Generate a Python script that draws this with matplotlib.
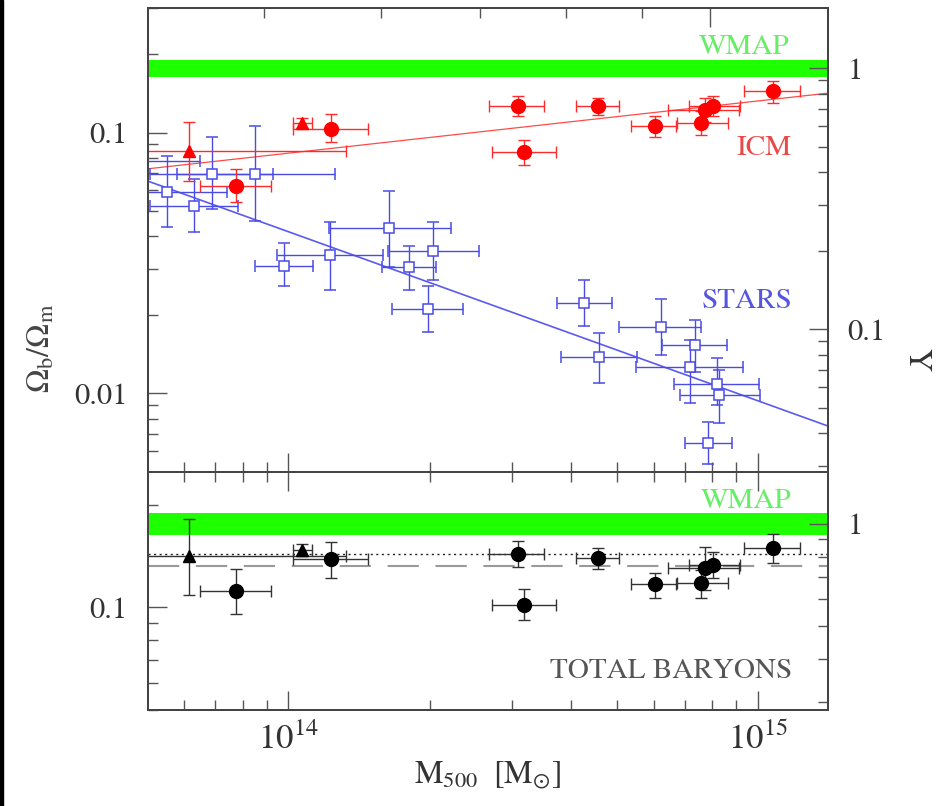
import numpy as np
import matplotlib
matplotlib.use('Agg')
import matplotlib.pyplot as plt
from matplotlib.ticker import FixedLocator, NullFormatter, FuncFormatter, LogLocator
from matplotlib.patches import Rectangle

plt.rcParams['font.family'] = ['STIXGeneral', 'DejaVu Serif']
plt.rcParams['mathtext.fontset'] = 'stix'

# ---------------- data (masses in units of 1e14 Msun) ----------------
icm_M   = [0.775, 1.235, 3.08, 3.17, 4.56, 6.03, 7.56, 7.71, 8.02, 10.77]
icm_Mlo = [0.649, 1.025, 2.68, 2.71, 4.09, 5.36, 6.72, 6.43, 7.13, 9.34]
icm_Mhi = [0.920, 1.481, 3.50, 3.71, 5.05, 6.69, 8.63, 9.11, 9.16, 12.29]
icm_f   = [0.0624, 0.1027, 0.1260, 0.0845, 0.1260, 0.1055, 0.1083, 0.1216, 0.1260, 0.1440]
icm_fhi = [0.0726, 0.1173, 0.1377, 0.0940, 0.1353, 0.1153, 0.1205, 0.1353, 0.1377, 0.1574]
icm_flo = [0.0542, 0.0923, 0.1153, 0.0752, 0.1163, 0.0965, 0.0974, 0.1093, 0.1153, 0.1294]

tri_M   = [0.615, 1.071]
tri_Mlo = [0.40, 1.025]
tri_Mhi = [1.329, 1.125]
tri_icm_f   = [0.0852, 0.1083]
tri_icm_fhi = [0.1093, 0.1133]
tri_icm_flo = [0.0653, 0.1036]

st_M   = [0.46, 0.552, 0.630, 0.689, 0.850, 0.981, 1.229, 1.642, 1.811, 1.988,
          2.038, 4.256, 4.581, 6.21, 7.34, 7.16, 8.18, 8.26, 7.83]
st_Mlo = [0.33, 0.411, 0.508, 0.508, 0.580, 0.850, 0.947, 1.223, 1.586, 1.666,
          1.634, 3.728, 3.80, 5.054, 6.242, 5.495, 6.622, 6.82, 6.99]
st_Mhi = [0.649, 0.741, 0.782, 0.929, 1.259, 1.131, 1.594, 2.226, 2.068, 2.361,
          2.542, 4.883, 5.52, 7.558, 8.588, 9.29, 10.05, 10.10, 8.80]
st_f   = [0.078, 0.0592, 0.0523, 0.0695, 0.0695, 0.0309, 0.0338, 0.0430, 0.0304, 0.0211,
          0.0353, 0.0223, 0.0138, 0.0180, 0.0153, 0.0126, 0.01083, 0.0099, 0.00647]
st_fhi = [0.095, 0.0815, 0.0665, 0.0957, 0.1055, 0.0376, 0.0453, 0.0597, 0.0366, 0.0259,
          0.0453, 0.0273, 0.0170, 0.0231, 0.0191, 0.0160, 0.01365, 0.0123, 0.00779]
st_flo = [0.064, 0.0434, 0.0415, 0.0509, 0.0457, 0.0257, 0.0250, 0.0306, 0.0250, 0.0172,
          0.0273, 0.0181, 0.0110, 0.0140, 0.01205, 0.00923, 0.0090, 0.0077, 0.00537]

tot_f   = [0.1115, 0.1384, 0.1432, 0.1020, 0.1393, 0.1169, 0.1177, 0.1302, 0.1329, 0.1491]
tot_fhi = [0.1294, 0.1553, 0.1563, 0.1137, 0.1491, 0.1267, 0.1285, 0.1501, 0.1451, 0.1640]
tot_flo = [0.0954, 0.1217, 0.1311, 0.0916, 0.1294, 0.1063, 0.1063, 0.1129, 0.1217, 0.1347]
tri_tot_f   = [0.1413, 0.1471]
tri_tot_fhi = [0.1815, 0.1532]
tri_tot_flo = [0.1085, 0.1413]

fit_M     = [0.503, 14.1]
icm_fit   = [0.0726, 0.1415]
stars_fit = [0.0651, 0.0075]

wmap_band = [0.163, 0.189]
tot_dotted = 0.144
tot_dashed = 0.132
Y_norm = 0.176              # Y = f / Y_norm (right-hand axis)

x_lim = [0.503, 14.1]
top_ylim = [0.005, 0.3]
bot_ylim = [0.05, 0.25]

# secondary top scale (R-like, log), major at 1, minors 0.5..0.9
r_ticks_major = [1.0]
r_ticks_minor = [0.5, 0.6, 0.7, 0.8, 0.9]
r_M1 = 7.9e14
r_slope = 0.317

E = 1e14


def arr(a):
    return np.asarray(a, dtype=float)


def errs(v, lo, hi):
    v, lo, hi = arr(v), arr(lo), arr(hi)
    return np.vstack([v - lo, hi - v])


# ---------------- figure ----------------
W, H = 942, 806
fig = plt.figure(figsize=(W / 100, H / 100), dpi=100)
fig.patches.append(Rectangle((0, 0), 3 / W, 1, transform=fig.transFigure,
                             color='black', zorder=0))

L, R = 148, 828
ax1 = fig.add_axes([L / W, 1 - 472 / H, (R - L) / W, (472 - 8) / H])
ax2 = fig.add_axes([L / W, 1 - 710 / H, (R - L) / W, (710 - 472) / H])

RED = '#ff0000'
RED_E = '#ff2a2a'
BLUE = '#4a4ae6'
GREEN = '#1eff00'
GRAY = '#555555'
FS = 21
TFS = 22

fmt = FuncFormatter(lambda v, p: f'{v:g}')

for ax in (ax1, ax2):
    ax.set_xscale('log')
    ax.set_yscale('log')
    ax.set_xlim(x_lim[0] * E, x_lim[1] * E)
    for s in ax.spines.values():
        s.set_color('#444444')
        s.set_linewidth(1.4)

ax1.set_ylim(*top_ylim)
ax2.set_ylim(*bot_ylim)

tick_kw = dict(direction='in', color=GRAY, labelsize=TFS, labelcolor='#333333')

# ---- top panel ----
ax1.axhspan(wmap_band[0], wmap_band[1], color=GREEN, lw=0, zorder=1)
ax1.plot(arr(fit_M) * E, icm_fit, color='#ff4a4a', lw=0.9, zorder=2)
ax1.plot(arr(fit_M) * E, stars_fit, color='#5a5af0', lw=1.2, zorder=2)

ax1.errorbar(arr(st_M) * E, st_f, xerr=errs(st_M, st_Mlo, st_Mhi) * E,
             yerr=errs(st_f, st_flo, st_fhi), fmt='s', ms=7.5, mfc='white',
             mec=BLUE, mew=1.1, ecolor=BLUE, elinewidth=1.0, capsize=4,
             capthick=1.0, zorder=3)
ax1.errorbar(arr(icm_M) * E, icm_f, xerr=errs(icm_M, icm_Mlo, icm_Mhi) * E,
             yerr=errs(icm_f, icm_flo, icm_fhi), fmt='o', ms=10, color=RED,
             ecolor=RED_E, elinewidth=1.0, capsize=4, capthick=1.0, zorder=4)
ax1.errorbar(arr(tri_M) * E, tri_icm_f, xerr=errs(tri_M, tri_Mlo, tri_Mhi) * E,
             yerr=errs(tri_icm_f, tri_icm_flo, tri_icm_fhi), fmt='^', ms=9,
             color=RED, ecolor=RED_E, elinewidth=1.0, capsize=4, capthick=1.0,
             zorder=4)

ax1.text(0.944, 0.916, 'WMAP', transform=ax1.transAxes, ha='right', va='center',
         fontsize=FS, color='#66ee66')
ax1.text(0.947, 0.698, 'ICM', transform=ax1.transAxes, ha='right', va='center',
         fontsize=FS, color='#e84a4a')
ax1.text(0.947, 0.3685, 'STARS', transform=ax1.transAxes, ha='right', va='center',
         fontsize=FS, color='#5555e0')

ax1.yaxis.set_major_locator(FixedLocator([0.01, 0.1]))
ax1.yaxis.set_major_formatter(fmt)
ax1.yaxis.set_minor_locator(LogLocator(base=10, subs=np.arange(2, 10)))
ax1.yaxis.set_minor_formatter(NullFormatter())
ax1.tick_params(axis='both', which='both', top=False, right=False, **tick_kw)
ax1.tick_params(axis='both', which='major', length=14, width=1.0, pad=15)
ax1.tick_params(axis='both', which='minor', length=7, width=1.0)
ax1.tick_params(axis='x', labelbottom=False)

ax1r = ax1.twinx()
ax1r.set_yscale('log')
ax1r.set_ylim(top_ylim[0] / Y_norm, top_ylim[1] / Y_norm)
ax1r.yaxis.set_major_locator(FixedLocator([0.1, 1.0]))
ax1r.yaxis.set_major_formatter(fmt)
ax1r.yaxis.set_minor_locator(LogLocator(base=10, subs=np.arange(2, 10)))
ax1r.yaxis.set_minor_formatter(NullFormatter())
ax1r.tick_params(axis='y', which='both', **tick_kw)
ax1r.tick_params(axis='y', which='major', length=14, width=1.0, pad=14)
ax1r.tick_params(axis='y', which='minor', length=7, width=1.0)
for s in ax1r.spines.values():
    s.set_color('#444444')
    s.set_linewidth(1.4)

sec = ax1.secondary_xaxis('top', functions=(lambda m: (np.asarray(m) / r_M1) ** r_slope,
                                            lambda r: r_M1 * np.asarray(r) ** (1 / r_slope)))
sec.xaxis.set_major_locator(FixedLocator(r_ticks_major))
sec.xaxis.set_minor_locator(FixedLocator(r_ticks_minor))
sec.xaxis.set_major_formatter(NullFormatter())
sec.xaxis.set_minor_formatter(NullFormatter())
sec.tick_params(which='both', direction='in', color=GRAY, width=1.0)
sec.tick_params(which='major', length=14)
sec.tick_params(which='minor', length=7)
sec.spines['top'].set_color('#444444')
sec.spines['top'].set_linewidth(1.4)

# ---- bottom panel ----
ax2.axhspan(wmap_band[0], wmap_band[1], color=GREEN, lw=0, zorder=1)
ax2.axhline(tot_dotted, color='#222222', lw=1.0, ls=(0, (1.5, 2.5)), zorder=2)
ax2.axhline(tot_dashed, color='#999999', lw=1.5, ls=(0, (15, 8)), zorder=2)
ax2.errorbar(arr(icm_M) * E, tot_f, xerr=errs(icm_M, icm_Mlo, icm_Mhi) * E,
             yerr=errs(tot_f, tot_flo, tot_fhi), fmt='o', ms=10, color='black',
             ecolor='#333333', elinewidth=1.0, capsize=4, capthick=1.0, zorder=4)
ax2.errorbar(arr(tri_M) * E, tri_tot_f, xerr=errs(tri_M, tri_Mlo, tri_Mhi) * E,
             yerr=errs(tri_tot_f, tri_tot_flo, tri_tot_fhi), fmt='^', ms=9,
             color='black', ecolor='#333333', elinewidth=1.0, capsize=4,
             capthick=1.0, zorder=4)

ax2.text(0.947, 0.878, 'WMAP', transform=ax2.transAxes, ha='right', va='center',
         fontsize=FS, color='#66ee66')
ax2.text(0.947, 0.164, 'TOTAL BARYONS', transform=ax2.transAxes, ha='right',
         va='center', fontsize=FS, color='#555555')

ax2.yaxis.set_major_locator(FixedLocator([0.1]))
ax2.yaxis.set_major_formatter(fmt)
ax2.yaxis.set_minor_locator(LogLocator(base=10, subs=np.arange(2, 10)))
ax2.yaxis.set_minor_formatter(NullFormatter())
ax2.tick_params(axis='both', which='both', right=False, top=True, **tick_kw)
ax2.tick_params(axis='both', which='major', length=14, width=1.0, pad=15)
ax2.tick_params(axis='both', which='minor', length=7, width=1.0)
ax2.tick_params(axis='x', which='major', pad=10, labelsize=25)

ax2r = ax2.twinx()
ax2r.set_yscale('log')
ax2r.set_ylim(bot_ylim[0] / Y_norm, bot_ylim[1] / Y_norm)
ax2r.yaxis.set_major_locator(FixedLocator([1.0]))
ax2r.yaxis.set_major_formatter(fmt)
ax2r.yaxis.set_minor_locator(LogLocator(base=10, subs=np.arange(2, 10)))
ax2r.yaxis.set_minor_formatter(NullFormatter())
ax2r.tick_params(axis='y', which='both', **tick_kw)
ax2r.tick_params(axis='y', which='major', length=14, width=1.0, pad=14)
ax2r.tick_params(axis='y', which='minor', length=7, width=1.0)
for s in ax2r.spines.values():
    s.set_color('#444444')
    s.set_linewidth(1.4)

ax2.set_xlabel(r'$\mathrm{M}_{500}\ \ [\mathrm{M}_{\odot}]$', fontsize=23,
               color='#333333', labelpad=2)

fig.text(42 / W, 1 - 348 / H, r'$\Omega_{\mathrm{b}}/\Omega_{\mathrm{m}}$',
         rotation=90, ha='center', va='center', fontsize=23, color='#444444')
fig.text(916 / W, 1 - 360 / H, 'Y', rotation=270, ha='center', va='center',
         fontsize=23, color='#333333')

fig.savefig('out.png', dpi=100)
